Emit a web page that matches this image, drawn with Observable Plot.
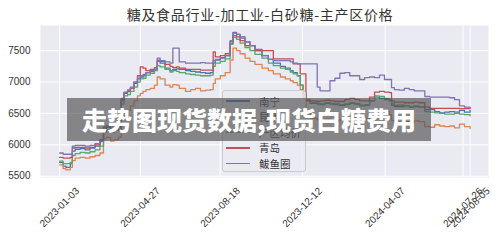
<!DOCTYPE html>
<html><head><meta charset="utf-8">
<script src="https://cdn.jsdelivr.net/npm/d3@7"></script>
<script src="https://cdn.jsdelivr.net/npm/@observablehq/plot@0.6"></script>
<style>
body{margin:0;background:#fff;}
#wrap{position:relative;width:500px;height:240px;overflow:hidden;font-family:"Liberation Sans","Noto Sans CJK SC",sans-serif;}
#title{position:absolute;left:0;top:4px;width:520px;text-align:center;font-family:"Noto Sans CJK SC",sans-serif;font-size:14px;color:#333;letter-spacing:0.7px;}
#legend{position:absolute;left:222px;top:90px;width:84px;height:82px;background:rgba(234,234,242,0.8);border:1px solid #cccccc;border-radius:3px;box-sizing:border-box;}
.li{position:absolute;left:3px;height:14px;display:flex;align-items:center;font-family:"Noto Sans CJK SC",sans-serif;font-size:10.5px;color:#333;}
.li span.sw{display:inline-block;width:24px;height:1.5px;margin-right:9px;}
#banner{position:absolute;left:67px;top:98px;width:364px;height:43px;background:rgba(85,85,85,0.68);}
#btxt{position:absolute;left:67px;top:98px;width:364px;height:43px;line-height:43px;text-align:center;color:#fff;font-family:"Noto Sans CJK SC",sans-serif;font-weight:900;font-size:25px;white-space:nowrap;}
</style></head>
<body><div id="wrap"><div id="chart"></div><div id="title"></div><div id="legend"></div><div id="banner"></div><div id="btxt"></div></div>
<script>
const titleText = "糖及食品行业-加工业-白砂糖-主产区价格";
const bannerText = "走势图现货数据,现货白糖费用";
const cities = ["南宁", "昆明", "产区均价", "青岛", "鲅鱼圈"];
const colors = ["#4c72b0", "#dd8452", "#55a868", "#c44e52", "#8172b3"];
const xTicks = ["2023-01-03","2023-04-27","2023-08-18","2023-12-12","2024-04-07","2024-07-26","2024-08-05"];
const yTicks = [5500, 6000, 6500, 7000, 7500];
const dates = ["2023-01-03","2023-01-08","2023-01-12","2023-01-18","2023-01-21","2023-01-25","2023-02-01","2023-02-08","2023-02-15","2023-02-22",
"2023-03-01","2023-03-06","2023-03-10","2023-03-16","2023-03-21","2023-03-27","2023-03-31","2023-04-04","2023-04-09","2023-04-13",
"2023-04-18","2023-04-23","2023-04-27","2023-05-01","2023-05-05","2023-05-11","2023-05-17","2023-05-21","2023-05-25","2023-06-01",
"2023-06-08","2023-06-12","2023-06-17","2023-06-21","2023-06-30","2023-07-07","2023-07-14","2023-07-21","2023-07-28","2023-08-04",
"2023-08-08","2023-08-11","2023-08-18","2023-08-25","2023-09-01","2023-09-05","2023-09-10","2023-09-15","2023-09-22","2023-09-29",
"2023-10-06","2023-10-16","2023-10-25","2023-11-01","2023-11-11","2023-11-18","2023-11-25","2023-11-29","2023-12-05","2023-12-09",
"2023-12-13","2023-12-17","2023-12-23","2024-01-02","2024-01-06","2024-01-13","2024-01-20","2024-01-27","2024-02-03","2024-02-10",
"2024-02-17","2024-02-24","2024-03-02","2024-03-09","2024-03-16","2024-03-23","2024-03-30","2024-04-06","2024-04-13","2024-04-16",
"2024-04-20","2024-04-27","2024-05-04","2024-05-11","2024-05-18","2024-05-25","2024-06-02","2024-06-09","2024-06-16","2024-06-23",
"2024-06-30","2024-07-07","2024-07-14","2024-07-21","2024-07-28","2024-08-05"];
const nanning = [5720,5660,5640,5700,5900,5930,5940,5920,5950,5980,
6050,6250,6280,6200,6230,6240,6700,6820,6850,6900,
6980,7050,7080,7100,7150,7170,7200,7330,7300,7220,
7180,7200,7210,7200,7180,7170,7160,7150,7140,7150,
7300,7350,7380,7420,7650,7790,7760,7720,7640,7580,
7500,7420,7360,7300,7250,7220,7180,7150,7100,6950,
6800,6700,6660,6650,6640,6660,6650,6640,6630,6640,
6660,6650,6620,6630,6700,6760,6740,6720,6700,6630,
6610,6610,6620,6600,6610,6600,6560,6560,6530,6510,
6520,6530,6520,6550,6520,6550];
const kunming = [5680,5620,5600,5640,5750,5790,5800,5790,5810,5830,
5870,6100,6120,6060,6080,6120,6400,6520,6550,6620,
6700,6780,6820,6850,6880,6900,6950,7080,7050,6950,
6920,6960,6950,6900,6850,6880,6900,6860,6870,6880,
6980,7050,7100,7150,7350,7540,7500,7450,7380,7330,
7280,7220,7180,7130,7080,7050,7020,6990,6950,6880,
6750,6500,6420,6400,6390,6410,6390,6380,6400,6420,
6440,6420,6390,6420,6480,6560,6550,6530,6480,6390,
6360,6360,6370,6360,6380,6370,6290,6280,6320,6300,
6290,6300,6270,6330,6290,6260];
const average = [5740,5700,5700,5720,5830,5860,5880,5870,5890,5920,
5980,6200,6240,6220,6230,6240,6650,6780,6800,6850,
6920,7000,7050,7060,7110,7140,7180,7260,7240,7200,
7160,7180,7170,7150,7130,7120,7110,7100,7100,7110,
7250,7300,7330,7370,7600,7710,7680,7620,7550,7500,
7440,7380,7300,7260,7220,7200,7160,7130,7100,6950,
6850,6720,6680,6660,6650,6670,6660,6650,6640,6650,
6670,6660,6630,6640,6700,6780,6770,6740,6720,6660,
6630,6630,6620,6610,6620,6610,6530,6520,6510,6500,
6490,6490,6500,6490,6480,6460];
const qingdao = [5800,5790,5790,5800,5950,5960,5960,5950,5960,6000,
6080,6280,6300,6260,6250,6270,6720,6830,6870,6900,
7000,7100,7240,7220,7180,7200,7230,7350,7330,7280,
7250,7230,7240,7220,7200,7200,7200,7190,7190,7190,
7480,7400,7420,7450,7620,7740,7720,7660,7580,7580,
7500,7500,7500,7370,7370,7370,7370,7290,7290,7130,
7130,6710,6700,6690,6700,6710,6700,6690,6690,6720,
6740,6720,6700,6700,6760,6840,6850,6840,6830,6700,
6680,6680,6670,6670,6680,6670,6600,6580,6580,6580,
6580,6580,6580,6575,6575,6575];
const bayuquan = [5870,5850,5850,5850,5980,5990,5990,5980,5990,6020,
6080,6280,6300,6250,6270,6290,6740,6840,6870,6920,
7000,7060,7100,7120,7150,7180,7200,7380,7340,7320,
7300,7540,7540,7320,7300,7300,7300,7310,7300,7300,
7340,7360,7390,7420,7660,7780,7760,7700,7640,7580,
7520,7420,7360,7340,7340,7340,7320,7300,7290,7290,
7290,7290,7290,6920,6860,6860,7020,7060,7140,7150,
7100,7100,7040,7070,7080,7070,7110,7040,7040,6910,
6880,6870,6900,6880,6860,6860,6770,6760,6760,6760,
6760,6750,6720,6620,6600,6580];

const series = [nanning, kunming, average, qingdao, bayuquan];
const parse = d3.utcParse("%Y-%m-%d");
const rows = [];
cities.forEach((c, i) => dates.forEach((d, j) => rows.push({city: c, date: parse(d), value: series[i][j]})));
const tickDates = xTicks.map(parse);

const chart = Plot.plot({
  width: 500, height: 240,
  marginLeft: 40, marginRight: 12, marginTop: 25, marginBottom: 63,
  style: {background: "transparent", color: "#333", fontFamily: "Liberation Sans, sans-serif"},
  x: {type: "utc", domain: [parse("2022-12-07"), parse("2024-08-31")], axis: null},
  y: {domain: [5480, 7900]},
  color: {domain: cities, range: colors},
  marks: [
    Plot.frame({fill: "#eaeaf2"}),
    Plot.gridY(yTicks, {stroke: "#fff", strokeOpacity: 1, strokeWidth: 1}),
    Plot.gridX(tickDates, {stroke: "#fff", strokeOpacity: 1, strokeWidth: 1}),
    Plot.axisY(yTicks, {tickSize: 0, tickPadding: 10, fontSize: 10, label: null, fill: "#333", tickFormat: d => String(d)}),
    Plot.text(tickDates, {x: d => d, frameAnchor: "bottom", dy: 30, rotate: -45, textAnchor: "middle", lineAnchor: "middle", fontSize: 10, fill: "#333", text: (d, i) => xTicks[i]}),
    Plot.line(rows, {x: "date", y: "value", z: "city", stroke: "city", curve: "step-after", strokeWidth: 1.3})
  ]
});
document.getElementById("chart").appendChild(chart);
document.getElementById("title").textContent = titleText;
document.getElementById("btxt").textContent = bannerText;
const lg = document.getElementById("legend");
cities.forEach((c, i) => {
  const el = document.createElement("div");
  el.className = "li";
  el.style.top = (3 + i * 15.6) + "px";
  el.innerHTML = `<span class="sw" style="background:${colors[i]}"></span>${c}`;
  lg.appendChild(el);
});
</script>
</body></html>
